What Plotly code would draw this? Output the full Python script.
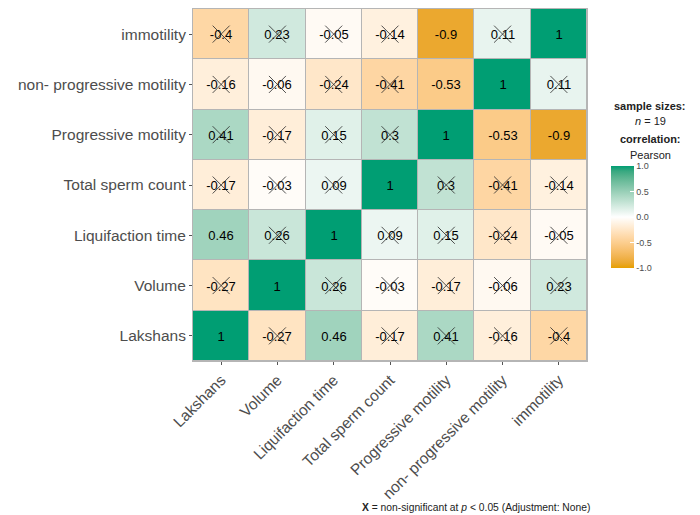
import plotly.graph_objects as go

# ---------------- data ----------------
variables = ["Lakshans", "Volume", "Liquifaction time", "Total sperm count",
             "Progressive motility", "non- progressive motility", "immotility"]

row_lakshans    = [1.00, -0.27, 0.46, -0.17, 0.41, -0.16, -0.40]
row_volume      = [-0.27, 1.00, 0.26, -0.03, -0.17, -0.06, 0.23]
row_liquif      = [0.46, 0.26, 1.00, 0.09, 0.15, -0.24, -0.05]
row_tsc         = [-0.17, -0.03, 0.09, 1.00, 0.30, -0.41, -0.14]
row_progressive = [0.41, -0.17, 0.15, 0.30, 1.00, -0.53, -0.90]
row_nonprog     = [-0.16, -0.06, -0.24, -0.41, -0.53, 1.00, 0.11]
row_immotility  = [-0.40, 0.23, -0.05, -0.14, -0.90, 0.11, 1.00]

corr = [row_lakshans, row_volume, row_liquif, row_tsc,
        row_progressive, row_nonprog, row_immotility]
n_samples = 19
crit_r = 0.4555  # |r| needed for p < 0.05 with n = 19

# ---------------- colour scale (Lab interpolation like ggplot gradient2) ----------------
def hex2rgb(h):
    h = h.lstrip("#")
    return [int(h[i:i + 2], 16) / 255 for i in (0, 2, 4)]

def srgb2lin(c):
    return c / 12.92 if c <= 0.04045 else ((c + 0.055) / 1.055) ** 2.4

def lin2srgb(c):
    c = max(0.0, min(1.0, c))
    return 12.92 * c if c <= 0.0031308 else 1.055 * c ** (1 / 2.4) - 0.055

WP = (0.95047, 1.0, 1.08883)

def rgb2lab(rgb):
    r, g, b = [srgb2lin(c) for c in rgb]
    x = 0.4124 * r + 0.3576 * g + 0.1805 * b
    y = 0.2126 * r + 0.7152 * g + 0.0722 * b
    z = 0.0193 * r + 0.1192 * g + 0.9505 * b
    def f(t):
        return t ** (1 / 3) if t > 0.008856 else 7.787 * t + 16 / 116
    fx, fy, fz = f(x / WP[0]), f(y / WP[1]), f(z / WP[2])
    return (116 * fy - 16, 500 * (fx - fy), 200 * (fy - fz))

def lab2rgb(lab):
    L_, a, bb = lab
    fy = (L_ + 16) / 116
    fx = fy + a / 500
    fz = fy - bb / 200
    def finv(t):
        return t ** 3 if t ** 3 > 0.008856 else (t - 16 / 116) / 7.787
    x, y, z = finv(fx) * WP[0], finv(fy) * WP[1], finv(fz) * WP[2]
    r = 3.2406 * x - 1.5372 * y - 0.4986 * z
    g = -0.9689 * x + 1.8758 * y + 0.0415 * z
    b = 0.0557 * x - 0.2040 * y + 1.0570 * z
    return [round(lin2srgb(c) * 255) for c in (r, g, b)]

low, mid, high = "#E69F00", "#FFFFFF", "#009E73"
lab_low, lab_mid, lab_high = rgb2lab(hex2rgb(low)), rgb2lab(hex2rgb(mid)), rgb2lab(hex2rgb(high))
colorscale = []
steps = 20
for i in range(steps + 1):
    t = i / steps
    if t <= 0.5:
        u = t / 0.5
        lab = [lab_low[k] + (lab_mid[k] - lab_low[k]) * u for k in range(3)]
    else:
        u = (t - 0.5) / 0.5
        lab = [lab_mid[k] + (lab_high[k] - lab_mid[k]) * u for k in range(3)]
    r, g, b = lab2rgb(lab)
    colorscale.append([t, f"rgb({r},{g},{b})"])

# ---------------- figure ----------------
def fmt(v):
    return f"{round(v, 2):g}"

labels = [[fmt(v) for v in row] for row in corr]

FONT = "Liberation Sans, Arial, sans-serif"
W, H = 700, 515
L, R, T, B = 193, 113, 9, 154
pw, ph = W - L - R, H - T - B

def px2x(px):
    return (px - L) / pw

def py2y(py):
    return (H - B - py) / ph

fig = go.Figure()
fig.add_trace(go.Heatmap(
    z=corr, x=variables, y=variables,
    zmin=-1, zmax=1, colorscale=colorscale,
    text=labels, texttemplate="%{text}",
    textfont=dict(family=FONT, size=13, color="black"),
    xgap=1, ygap=1,
    colorbar=dict(
        x=px2x(611), xanchor="left", y=py2y(217), yanchor="middle",
        xpad=0, ypad=0,
        thickness=23, thicknessmode="pixels",
        len=102, lenmode="pixels",
        outlinewidth=0,
        tickvals=[-1, -0.5, 0, 0.5, 1],
        ticktext=["-1.0", "-0.5", "0.0", "0.5", "1.0"],
        ticks="inside", ticklen=4, tickcolor="white", tickwidth=1,
        tickfont=dict(family=FONT, size=9, color="#4d4d4d"),
    ),
    hoverinfo="skip",
))

# crosses for non-significant correlations
xs, ys = [], []
for i, rowv in enumerate(corr):
    for j, v in enumerate(rowv):
        if abs(v) < crit_r:
            xs.append(variables[j])
            ys.append(variables[i])
fig.add_trace(go.Scatter(
    x=xs, y=ys, mode="markers",
    marker=dict(symbol="x-thin", size=17, color="rgba(40,40,40,0.8)",
                line=dict(width=1, color="rgba(40,40,40,0.8)")),
    hoverinfo="skip", showlegend=False,
))

axis_common = dict(
    showgrid=False, zeroline=False,
    showline=True, mirror=True, linecolor="#b5b5b5", linewidth=1,
    ticks="outside", ticklen=3, tickcolor="#555555", tickwidth=1,
    tickfont=dict(family=FONT, size=15.5, color="#4d4d4d"),
    type="category",
)
fig.update_xaxes(**axis_common, tickangle=-45, range=[-0.5, 6.5])
fig.update_yaxes(**axis_common, range=[-0.5, 6.5])

legend_lines = [
    ("<b>sample sizes:</b>", 106),
    (f"<i>n</i> = {n_samples}", 121),
    ("<b>correlation:</b>", 139),
    ("Pearson", 155),
]
for txt, py in legend_lines:
    fig.add_annotation(
        text=txt, xref="paper", yref="paper", x=px2x(650), y=py2y(py),
        xanchor="center", yanchor="middle", showarrow=False,
        font=dict(family=FONT, size=11, color="#222222"),
    )

fig.add_annotation(
    text="<b>X</b> = non-significant at <i>p</i> &lt; 0.05 (Adjustment: None)",
    xref="paper", yref="paper", x=px2x(592), y=py2y(508),
    xanchor="right", yanchor="middle", showarrow=False,
    font=dict(family=FONT, size=10.3, color="#222222"),
)

fig.update_layout(
    width=W, height=H,
    margin=dict(l=L, r=R, t=T, b=B, autoexpand=False),
    plot_bgcolor="#b5b5b5", paper_bgcolor="white",
    showlegend=False,
)

fig.write_html("out.html", config={"displayModeBar": False},
               post_script="document.body.style.margin='0';document.body.style.overflow='hidden';")
